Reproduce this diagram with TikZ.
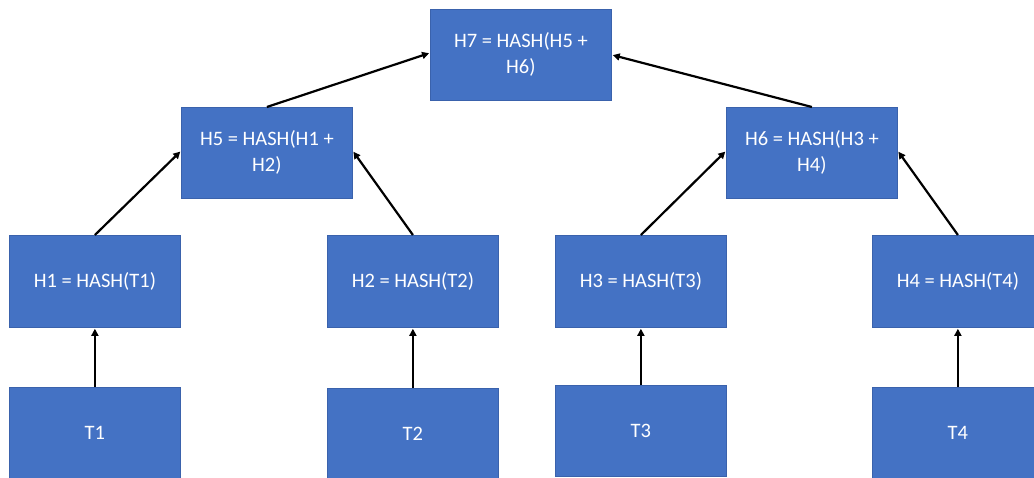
\documentclass[tikz,border=0pt]{standalone}
\usepackage{fontspec}
\setmainfont{Carlito}
\usetikzlibrary{arrows.meta}
\definecolor{boxblue}{HTML}{4472C4}
\definecolor{boxedge}{HTML}{3A62AC}
\tikzset{
  hashbox/.style={rectangle, fill=boxblue, draw=boxedge, line width=0.8pt,
    anchor=north west, minimum width=171pt, minimum height=91pt,
    inner sep=0pt, text=white, align=center,
    font=\fontsize{20.5pt}{26pt}\selectfont},
  link/.style={draw=black, line width=2.2pt,
    -{Triangle[length=7pt,width=7pt]}, shorten >=1pt}
}
\begin{document}
\begin{tikzpicture}[x=1pt,y=-1pt]
\useasboundingbox[clip] (0,0) rectangle (1034,478);
\fill[white] (0,0) rectangle (1034,478);

% root
\node[hashbox, minimum width=181pt] (H7) at (430,9) {H7 = HASH(H5 +\\H6)};

% intermediate level
\node[hashbox] (H5) at (181,107) {H5 = HASH(H1 +\\H2)};
\node[hashbox] (H6) at (726,107) {H6 = HASH(H3 +\\H4)};

% leaf hashes
\node[hashbox, minimum height=92pt] (H1) at (9,235)   {H1 = HASH(T1)};
\node[hashbox, minimum height=92pt] (H2) at (327,235) {H2 = HASH(T2)};
\node[hashbox, minimum height=92pt] (H3) at (555,235) {H3 = HASH(T3)};
\node[hashbox, minimum height=92pt] (H4) at (872,235) {H4 = HASH(T4)};

% transactions
\node[hashbox] (T1) at (9,387)   {T1};
\node[hashbox] (T2) at (327,388) {T2};
\node[hashbox] (T3) at (555,385) {T3};
\node[hashbox] (T4) at (872,387) {T4};

% transaction -> leaf hash
\draw[link] (T1.north) -- (H1.south);
\draw[link] (T2.north) -- (H2.south);
\draw[link] (T3.north) -- (H3.south);
\draw[link] (T4.north) -- (H4.south);

% leaf hashes -> intermediate
\draw[link] (H1.north) -- ([yshift=2pt]H5.west);
\draw[link] (H2.north) -- ([yshift=2pt]H5.east);
\draw[link] (H3.north) -- ([yshift=2pt]H6.west);
\draw[link] (H4.north) -- ([yshift=2pt]H6.east);

% intermediate -> root
\draw[link] (H5.north) -- ([yshift=2pt]H7.west);
\draw[link] (H6.north) -- (H7.east);
\end{tikzpicture}
\end{document}
